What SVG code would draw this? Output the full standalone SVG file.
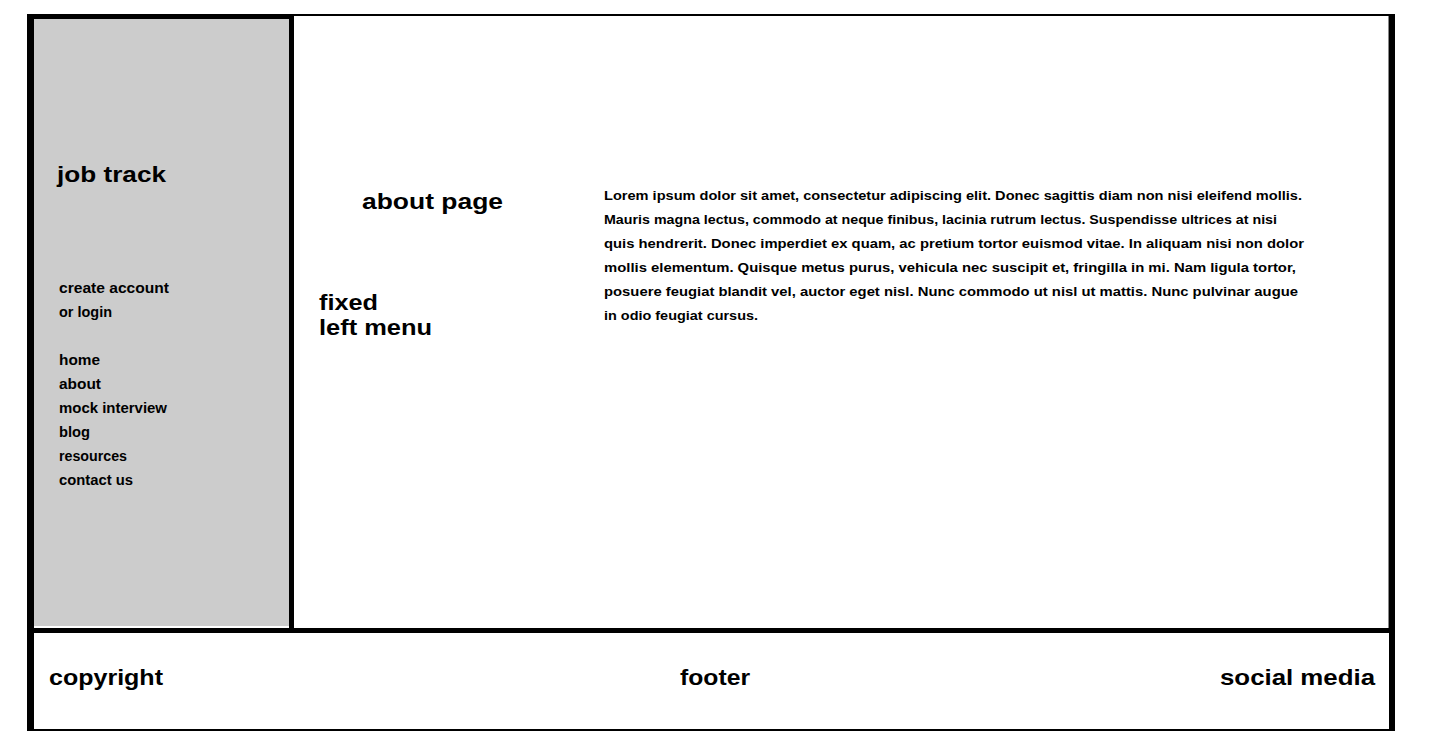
<svg xmlns="http://www.w3.org/2000/svg" width="1440" height="752" viewBox="0 0 1440 752">
<style>
  text { font-family: "Liberation Sans", Arial, sans-serif; font-weight: bold; fill: #000; }
  .h { font-size: 22px; }
  .m { font-size: 14px; }
  .p { font-size: 13px; }
  .b { fill: #000; }
</style>
<rect width="1440" height="752" fill="#fff"/>
<g id="frame">
  <rect class="b" x="294" y="14" width="1101" height="2"/>
  <rect x="1388" y="16" width="1" height="612" fill="#888"/>
  <rect class="b" x="1389" y="14" width="6" height="717"/>
  <rect class="b" x="27" y="14" width="7" height="717"/>
  <rect class="b" x="27" y="729" width="1368" height="2"/>
</g>
<g id="sidebar">
  <rect x="34" y="19" width="255" height="607" fill="#cccccc"/>
  <rect class="b" x="27" y="14" width="267" height="5"/>
  <rect class="b" x="289" y="14" width="5" height="614"/>
  <text class="h" x="57" y="182" textLength="109" lengthAdjust="spacingAndGlyphs">job track</text>
  <text class="m" x="59" y="293" textLength="110" lengthAdjust="spacingAndGlyphs">create account</text>
  <text class="m" x="59" y="317" textLength="53" lengthAdjust="spacingAndGlyphs">or login</text>
  <text class="m" x="59" y="365" textLength="41" lengthAdjust="spacingAndGlyphs">home</text>
  <text class="m" x="59" y="389" textLength="42" lengthAdjust="spacingAndGlyphs">about</text>
  <text class="m" x="59" y="413" textLength="108" lengthAdjust="spacingAndGlyphs">mock interview</text>
  <text class="m" x="59" y="437" textLength="31" lengthAdjust="spacingAndGlyphs">blog</text>
  <text class="m" x="59" y="461" textLength="68" lengthAdjust="spacingAndGlyphs">resources</text>
  <text class="m" x="59" y="485" textLength="74" lengthAdjust="spacingAndGlyphs">contact us</text>
</g>
<g id="main">
  <text class="h" x="362" y="209" textLength="141" lengthAdjust="spacingAndGlyphs">about page</text>
  <text class="h" x="319" y="310" textLength="59" lengthAdjust="spacingAndGlyphs">fixed</text>
  <text class="h" x="319" y="335" textLength="113" lengthAdjust="spacingAndGlyphs">left menu</text>
  <text class="p" x="604" y="200" textLength="698" lengthAdjust="spacingAndGlyphs">Lorem ipsum dolor sit amet, consectetur adipiscing elit. Donec sagittis diam non nisi eleifend mollis.</text>
  <text class="p" x="604" y="224" textLength="673" lengthAdjust="spacingAndGlyphs">Mauris magna lectus, commodo at neque finibus, lacinia rutrum lectus. Suspendisse ultrices at nisi</text>
  <text class="p" x="604" y="248" textLength="700" lengthAdjust="spacingAndGlyphs">quis hendrerit. Donec imperdiet ex quam, ac pretium tortor euismod vitae. In aliquam nisi non dolor</text>
  <text class="p" x="604" y="272" textLength="692" lengthAdjust="spacingAndGlyphs">mollis elementum. Quisque metus purus, vehicula nec suscipit et, fringilla in mi. Nam ligula tortor,</text>
  <text class="p" x="604" y="296" textLength="694" lengthAdjust="spacingAndGlyphs">posuere feugiat blandit vel, auctor eget nisl. Nunc commodo ut nisl ut mattis. Nunc pulvinar augue</text>
  <text class="p" x="604" y="320" textLength="154" lengthAdjust="spacingAndGlyphs">in odio feugiat cursus.</text>
</g>
<g id="footer">
  <rect class="b" x="33" y="628" width="1361" height="5"/>
  <text class="h" x="49" y="685" textLength="114" lengthAdjust="spacingAndGlyphs">copyright</text>
  <text class="h" x="680" y="685" textLength="70" lengthAdjust="spacingAndGlyphs">footer</text>
  <text class="h" x="1220" y="685" textLength="155" lengthAdjust="spacingAndGlyphs">social media</text>
</g>
<g id="connectors"></g>
</svg>
